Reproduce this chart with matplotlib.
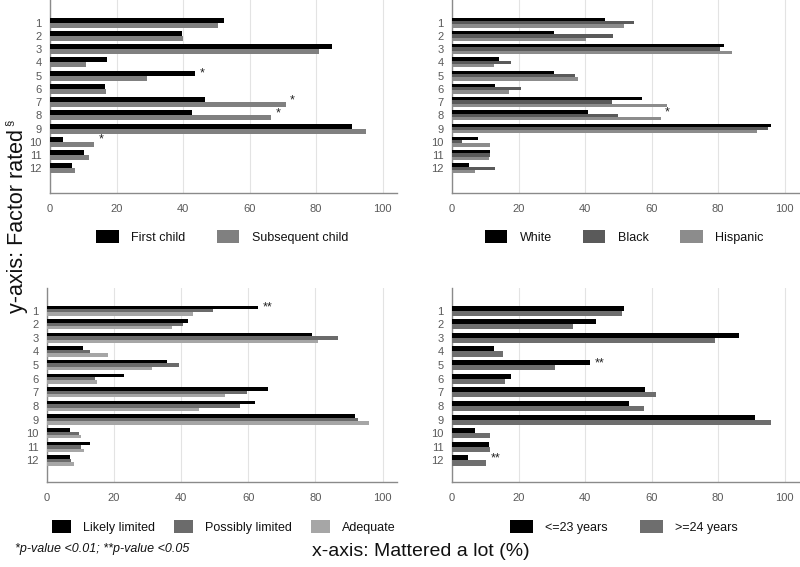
import numpy as np
import matplotlib
matplotlib.use("Agg")
import matplotlib.pyplot as plt
from matplotlib.patches import Patch

plt.rcParams['font.family'] = ['Liberation Sans', 'DejaVu Sans']

factors = [str(i) for i in range(1, 13)]
x_ticks = [0, 20, 40, 60, 80, 100]

# Panel 1: birth order
p1_labels = ["First child", "Subsequent child"]
p1_first = [52.3, 39.6, 84.7, 17.2, 43.6, 16.6, 46.6, 42.7, 90.9, 3.9, 10.2, 6.7]
p1_subsequent = [50.4, 40.0, 80.9, 10.7, 29.2, 16.9, 70.9, 66.5, 94.9, 13.2, 11.6, 7.5]
p1_stars = {5: "*", 7: "*", 8: "*", 10: "*"}

# Panel 2: race / ethnicity
p2_labels = ["White", "Black", "Hispanic"]
p2_white = [46.0, 30.8, 81.8, 14.1, 30.8, 12.8, 57.0, 41.0, 95.8, 7.7, 11.4, 5.1]
p2_black = [54.6, 48.3, 80.5, 17.7, 37.1, 20.8, 48.2, 49.9, 95.0, 3.1, 11.4, 12.8]
p2_hispanic = [51.8, 40.2, 84.3, 12.6, 37.9, 17.1, 64.6, 62.7, 91.7, 11.4, 11.1, 6.9]
p2_stars = {8: "*"}

# Panel 3: health literacy
p3_labels = ["Likely limited", "Possibly limited", "Adequate"]
p3_likely = [63.0, 41.9, 79.0, 10.7, 35.8, 22.9, 65.9, 62.0, 91.8, 7.0, 12.7, 7.0]
p3_possibly = [49.6, 40.6, 86.8, 12.9, 39.4, 14.3, 59.7, 57.4, 92.6, 9.4, 10.0, 7.2]
p3_adequate = [43.4, 37.2, 80.7, 18.1, 31.2, 14.9, 52.9, 45.4, 96.0, 10.0, 11.0, 8.1]
p3_stars = {1: "**"}

# Panel 4: maternal age
p4_labels = ["<=23 years", ">=24 years"]
p4_young = [51.7, 43.4, 86.2, 12.6, 41.5, 17.7, 58.0, 53.2, 91.0, 6.9, 11.0, 4.8]
p4_older = [51.2, 36.5, 79.2, 15.4, 31.0, 15.9, 61.3, 57.6, 95.8, 11.4, 11.4, 10.2]
p4_stars = {5: "**", 12: "**"}

W, H = 800, 567
fig = plt.figure(figsize=(W / 100, H / 100), dpi=100)


def px_axes(left, top, right, bottom):
    return fig.add_axes([left / W, 1 - bottom / H, (right - left) / W, (bottom - top) / H])


def draw_panel(ax, series, colors, labels, stars, bar_h, ylim, legend_center,
               colspace, hlen):
    n = len(series)
    pos = np.arange(1, 13)
    for i, (vals, c) in enumerate(zip(series, colors)):
        off = (i - (n - 1) / 2) * bar_h
        ax.barh(pos + off, vals, height=bar_h, color=c, edgecolor='none', zorder=3)
    top_off = -(n - 1) / 2 * bar_h
    for row, s in stars.items():
        mx = max(v[row - 1] for v in series)
        ax.text(mx + 1.3, row + top_off + 0.05, s, ha='left', va='center',
                fontsize=9, color='#222222', zorder=4)
    ax.set_xlim(0, 104.3)
    ax.set_ylim(*ylim)
    ax.set_yticks(pos)
    ax.set_yticklabels(factors)
    ax.set_xticks(x_ticks)
    ax.set_xticklabels([str(t) for t in x_ticks])
    ax.tick_params(length=0, labelsize=8, labelcolor='#595959')
    ax.tick_params(axis='y', pad=6)
    ax.tick_params(axis='x', pad=8)
    for sp in ['top', 'right']:
        ax.spines[sp].set_visible(False)
    for sp in ['left', 'bottom']:
        ax.spines[sp].set_color('#8a8a8a')
        ax.spines[sp].set_linewidth(1.0)
    ax.grid(axis='x', color='#e3e3e3', linewidth=0.8, zorder=0)
    ax.set_axisbelow(True)
    handles = [Patch(facecolor=c, edgecolor='none', label=l) for c, l in zip(colors, labels)]
    fig.legend(handles=handles, loc='center', ncol=n, frameon=False,
               bbox_to_anchor=(legend_center[0] / W, 1 - legend_center[1] / H),
               bbox_transform=fig.transFigure, fontsize=9,
               handlelength=hlen, handleheight=1.2, handletextpad=1.0,
               columnspacing=colspace, labelcolor='#111111')


ax1 = px_axes(50, 0, 397, 193)
draw_panel(ax1, [p1_first, p1_subsequent], ['#000000', '#808080'], p1_labels, p1_stars,
           0.38, (13.87, -0.71), (222, 237), 2.5, 1.8)

ax2 = px_axes(452, 0, 799, 193)
draw_panel(ax2, [p2_white, p2_black, p2_hispanic], ['#000000', '#5a5a5a', '#8c8c8c'],
           p2_labels, p2_stars, 0.25, (13.87, -0.71), (624, 237), 2.5, 1.8)

ax3 = px_axes(47, 288, 397, 482)
draw_panel(ax3, [p3_likely, p3_possibly, p3_adequate], ['#000000', '#6b6b6b', '#a6a6a6'],
           p3_labels, p3_stars, 0.25, (13.58, -0.66), (224, 527), 1.5, 1.5)

ax4 = px_axes(452, 288, 799, 482)
draw_panel(ax4, [p4_young, p4_older], ['#000000', '#6e6e6e'], p4_labels, p4_stars,
           0.37, (13.58, -0.66), (624, 527), 2.6, 1.8)

fig.text(18 / W, 1 - 221 / H, "y-axis: Factor rated", rotation=90, ha='center',
         va='center', fontsize=15.5, color='#111111')
fig.text(9 / W, 1 - 123 / H, "§", rotation=90, ha='center', va='center',
         fontsize=8, color='#111111')
fig.text(421 / W, 1 - 552 / H, "x-axis: Mattered a lot (%)", ha='center', va='center',
         fontsize=14, color='#111111')
fig.text(15 / W, 1 - 549 / H, "*p-value <0.01; **p-value <0.05", ha='left', va='center',
         fontsize=9, style='italic', color='#111111')

fig.savefig("out.png", dpi=100)
